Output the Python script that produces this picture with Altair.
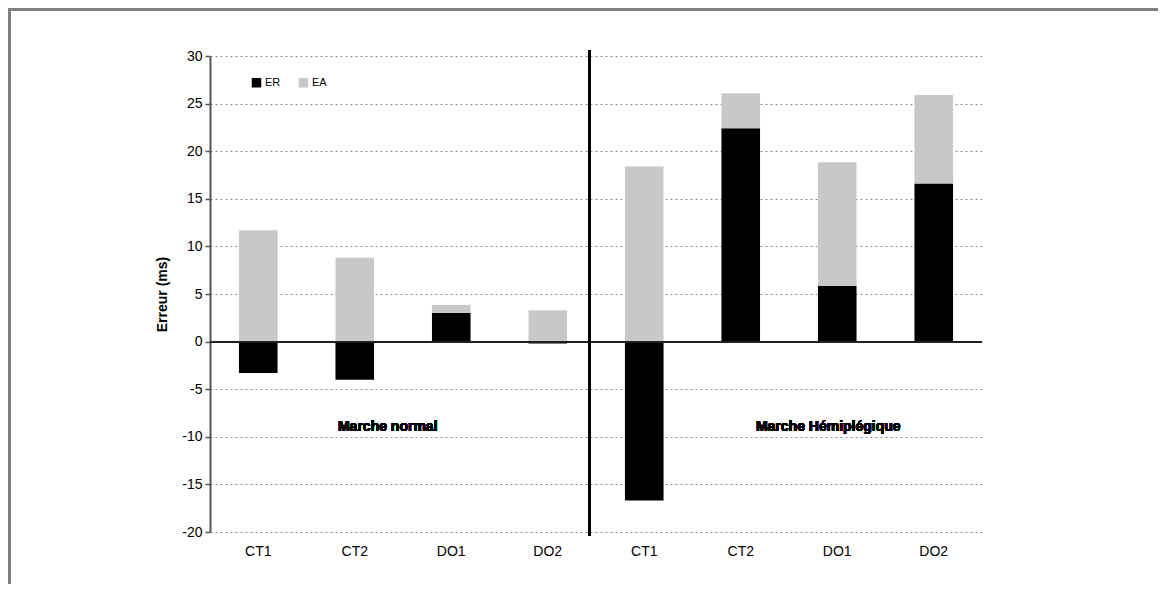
import altair as alt
import pandas as pd

groups = ["N", "N", "N", "N", "H", "H", "H", "H"]
cats = ["CT1", "CT2", "DO1", "DO2", "CT1", "CT2", "DO1", "DO2"]
er = [-3.3, -4.0, 3.0, -0.2, -16.7, 22.4, 5.85, 16.6]
ea = [11.7, 8.8, 0.85, 3.3, 18.4, 3.7, 13.0, 9.3]
series = ["ER", "EA"]
colors = ["#000000", "#c8c8c8"]
y_ticks = [-20, -15, -10, -5, 0, 5, 10, 15, 20, 25, 30]
labels_txt = ["Marche normal", "Marche Hémiplégique"]

keys = [g + "|" + c for g, c in zip(groups, cats)]
rows = []
for k, a, b in zip(keys, er, ea):
    rows.append({"key": k, "serie": "ER", "val": a, "ord": 0})
    rows.append({"key": k, "serie": "EA", "val": b, "ord": 1})
df = pd.DataFrame(rows)

FONT = "Liberation Sans"
W, H = 772, 476
PAD = {"left": 202, "top": 48, "right": 176, "bottom": 52}

xscale = alt.Scale(domain=keys, paddingInner=0.6, paddingOuter=0.3)
yscale = alt.Scale(domain=[-20, 30], nice=False, zero=False)

bars = alt.Chart(df).mark_bar().encode(
    x=alt.X("key:N", scale=xscale, sort=keys,
            axis=alt.Axis(title=None, labelExpr="split(datum.label, '|')[1]",
                          labelAngle=0, domain=False, ticks=False, grid=False,
                          labelPadding=12, labelFontSize=14, labelFont=FONT,
                          labelColor="#000")),
    y=alt.Y("val:Q", scale=yscale, stack="zero",
            axis=alt.Axis(title="Erreur (ms)", values=y_ticks, grid=True,
                          labelExpr="toString(datum.value)",
                          gridColor="#8a8a8a", gridDash=[2, 3], gridWidth=1,
                          domainColor="#555", domainWidth=2, tickColor="#555",
                          tickSize=5, tickWidth=1.5, labelFont=FONT,
                          labelFontSize=14, labelColor="#000", labelPadding=3,
                          titleFont=FONT, titleFontSize=14, titleFontWeight="bold",
                          titleColor="#000", titlePadding=12)),
    color=alt.Color("serie:N", scale=alt.Scale(domain=series, range=colors),
                    legend=alt.Legend(title=None, orient="none", legendX=41,
                                      legendY=21, direction="horizontal",
                                      symbolType="square", symbolSize=90,
                                      symbolStrokeWidth=0, labelFont=FONT,
                                      labelFontSize=11, labelOffset=3,
                                      columnPadding=17, padding=0,
                                      labelColor="#000")),
    order=alt.Order("ord:Q"),
)

zero = alt.Chart(df).mark_rule(color="#222", strokeWidth=1.2).encode(
    y=alt.datum(0)
)

sep = alt.Chart(df).mark_rule(color="#000", strokeWidth=2.5, xOffset=-54.5).encode(
    x=alt.XDatum("H|CT1", bandPosition=0.5),
    y=alt.datum(30.6),
    y2=alt.datum(-20.4),
)

t1 = alt.Chart(df).mark_text(font=FONT, fontSize=14, fontWeight="bold",
                             color="#000", dx=33, baseline="middle").encode(
    x=alt.XDatum("N|CT2", bandPosition=0.5),
    y=alt.datum(-9),
    text=alt.value(labels_txt[0]),
)
t2 = alt.Chart(df).mark_text(font=FONT, fontSize=14, fontWeight="bold",
                             color="#000", dx=-9, baseline="middle").encode(
    x=alt.XDatum("H|DO1", bandPosition=0.5),
    y=alt.datum(-9),
    text=alt.value(labels_txt[1]),
)

right_edge = W + PAD["right"]
bottom_edge = H + PAD["bottom"]
frame_top = alt.Chart(df).mark_rule(stroke="#808080", strokeWidth=2.5).encode(
    x=alt.value(-201), x2=alt.value(right_edge), y=alt.value(-46.5)
)
frame_left = alt.Chart(df).mark_rule(stroke="#808080", strokeWidth=2.5).encode(
    x=alt.value(-200.5), y=alt.value(-47.5), y2=alt.value(bottom_edge)
)

chart = alt.layer(frame_top, frame_left, bars, zero, sep, t1, t2).properties(
    width=W, height=H,
    autosize=alt.AutoSizeParams(type="none"),
    padding=PAD,
).configure(background="white").configure_view(stroke=None)

chart.save("out.html", embed_options={"renderer": "svg", "actions": False})
